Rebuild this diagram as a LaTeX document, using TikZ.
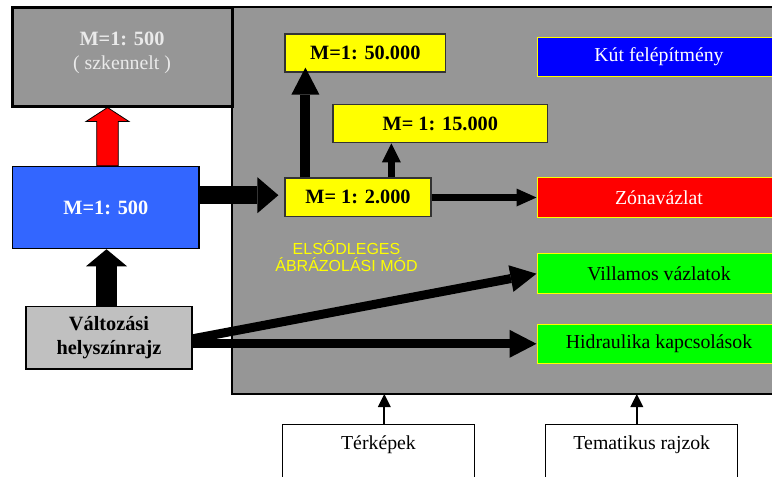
\documentclass[tikz,border=0pt]{standalone}
\usepackage{fontspec}
\setmainfont{Liberation Serif}
\newfontfamily\captionsans{Liberation Sans}
\usetikzlibrary{arrows.meta,calc}

\definecolor{panelgray}{HTML}{969696}
\definecolor{lightbox}{HTML}{C0C0C0}
\definecolor{baseblue}{HTML}{3366FF}
\definecolor{wellblue}{HTML}{0000FF}
\definecolor{scaleyellow}{HTML}{FFFF00}
\definecolor{zonered}{HTML}{FF0000}
\definecolor{schemegreen}{HTML}{00FF00}
\definecolor{scantext}{HTML}{EAEAEA}

\newcommand\mainsize{\fontsize{19.8}{23.5}\selectfont}
\newcommand\boldsize{\fontsize{20.3}{23.5}\selectfont\bfseries}

\tikzset{
  box/.style={rectangle, inner sep=0pt, align=center},
  scalebox/.style={box, fill=scaleyellow, draw=black!80, line width=1.2pt,
    minimum height=38pt, font=\boldsize},
  outbox/.style={box, draw=scaleyellow, line width=1pt,
    minimum width=244pt, minimum height=39.5pt},
  sourcebox/.style={box, draw=black, fill=white, line width=1pt,
    minimum width=191.6pt, minimum height=80pt},
  fat/.style n args={3}{draw=black, line width=#1,
    -{Triangle[length=#2, width=#3, line width=0pt]}},
}

\begin{document}
\begin{tikzpicture}[x=1pt, y=-1pt, font=\mainsize]
\useasboundingbox (0,0) rectangle (772,477);

% main working panel
\node[box, fill=panelgray, draw=black, line width=2.6pt, outer sep=0pt,
      anchor=north west, minimum width=570pt, minimum height=387pt] (panel) at (232,7) {};

% scanned sheet
\node[box, fill=panelgray, draw=black, line width=3pt, outer sep=0pt,
      minimum width=219.5pt, minimum height=99pt] (scan) at (122.25,56.5) {};
\node[box, text=scantext] (scanlabel) at (122,53)
      {{\boldsize M=1: 500}\\( szkennelt )};

% base map and change survey
\node[box, fill=baseblue, draw=black, line width=1.2pt, text=white,
      minimum width=186.3pt, minimum height=82.3pt, font=\boldsize]
      (base) at (105.8,207.5) {M=1: 500};
\node[box, fill=lightbox, draw=black, line width=1.2pt,
      minimum width=166pt, minimum height=62.3pt, font={\fontsize{20.3}{24}\selectfont\bfseries}]
      (valt) at (109,337.8) {Változási\\helyszínrajz};

% derived scales
\node[scalebox, minimum width=160.7pt] (s50) at (365.3,53) {M=1: 50.000};
\node[scalebox, minimum width=214.7pt] (s15) at (440.3,123.8) {M= 1: 15.000};
\node[scalebox, minimum width=146pt, minimum height=38.7pt] (s2) at (358,197.3) {M= 1: 2.000};

\node[box, text=scaleyellow, font={\captionsans\fontsize{16}{17.5}\selectfont}]
      (mode) at (346.5,256) {ELSŐDLEGES\\ÁBRÁZOLÁSI MÓD};

% thematic outputs
\node[outbox, fill=wellblue, text=white] (well) at (659,57) {Kút felépítmény};
\node[outbox, fill=zonered, text=white] (zone) at (659,197.5) {Zónavázlat};
\node[outbox, fill=schemegreen] (elec) at (659,273.7) {Villamos vázlatok};
\node[outbox, fill=schemegreen] (hydr) at (659,343.8) {Hidraulika kapcsolások};

% external sources
\node[sourcebox, anchor=north] (maps) at (378.5,424.3) {};
\node[box] (mapslabel) at ($(maps.north)+(0,20.5)$) {Térképek};
\node[sourcebox, anchor=north, minimum width=191.7pt] (theme) at (641.8,424.3) {};
\node[box] (themelabel) at ($(theme.north)+(0,20.5)$) {Tematikus rajzok};

% red export arrow (base map -> scanned sheet)
\coordinate (rbase) at ($(base.north)+(1.7,0)$);
\coordinate (rtip) at ($(rbase |- scan.south)+(0,1.5)$);
\draw[fill=zonered, draw=black, line width=0.8pt, line join=miter]
  ($(rbase)+(-10.8,0)$) -- ($(rtip)+(-10.8,14)$) -- ($(rtip)+(-21.5,14)$) --
  (rtip) -- ($(rtip)+(21.5,14)$) -- ($(rtip)+(10.8,14)$) -- ($(rbase)+(10.8,0)$) -- cycle;

% black flow arrows
\coordinate (vstart) at (base.south |- valt.north);
\draw[fat={21pt}{17pt}{41pt}] ($(vstart)+(0.7,0)$) -- ($(base.south)+(0.7,0)$);

\coordinate (mainend) at ($(s2.west)+(-6,-2.1)$);
\draw[fat={18pt}{21pt}{36pt}] (base.east |- mainend) -- (mainend);

\coordinate (up50) at ($(s2.north west)+(21,0)$);
\draw[fat={10pt}{27pt}{28pt}] (up50) -- ($(up50 |- s50.south)+(0,-5)$);

\coordinate (up15) at ($(s2.north west)+(107,0)$);
\draw[fat={7.5pt}{19pt}{19pt}] (up15) -- (up15 |- s15.south);

\draw[fat={7pt}{20pt}{18pt}] (s2.east |- zone.west) -- (zone.west);

\draw[fat={9pt}{26pt}{27pt}] ($(valt.east)+(0,1)$) -- (elec.west);
\draw[fat={9pt}{27pt}{28pt}] (valt.east |- hydr.west) -- (hydr.west);

% thin source arrows
\coordinate (mapsup) at ($(maps.north)+(5.8,0)$);
\draw[fat={2pt}{13pt}{13pt}] (mapsup) -- (mapsup |- panel.south);
\coordinate (themeup) at ($(theme.north)+(-5,0)$);
\draw[fat={2pt}{13pt}{13pt}] (themeup) -- (themeup |- panel.south);
\end{tikzpicture}
\end{document}
